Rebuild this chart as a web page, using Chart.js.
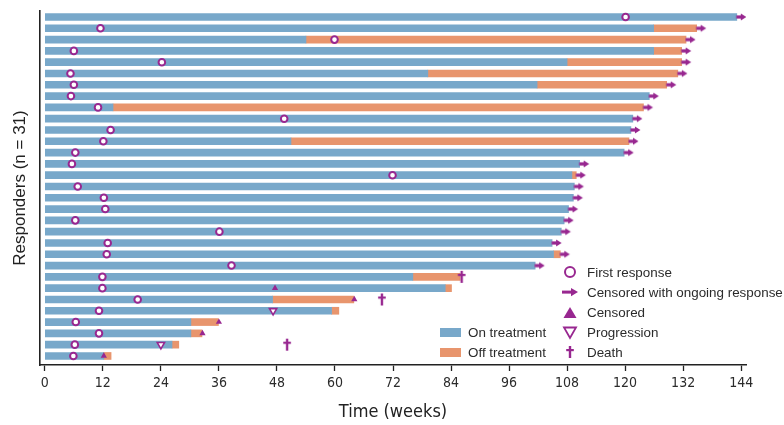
<!DOCTYPE html>
<html lang="en">
<head>
  <meta charset="UTF-8">
  <title>Responders swimmer plot</title>
  <style>
    html, body { margin: 0; padding: 0; background: #fff; }
    #wrap { width: 784px; height: 425px; }
  </style>
</head>
<body>
  <div id="wrap"><canvas id="chart" width="784" height="425"></canvas></div>
  <script src="https://cdn.jsdelivr.net/npm/chart.js"></script>
  <script>
    // weeks, one entry per responder (row 1 = top)
    const onTreatmentEnd = [143.1, 125.9, 54.0, 125.9, 108.0, 79.2, 101.8, 125.0, 14.1, 121.6,
      121.2, 50.9, 119.8, 110.6, 109.0, 109.5, 109.3, 108.3, 107.4, 106.8,
      104.9, 105.2, 101.4, 76.1, 82.8, 47.1, 59.3, 30.2, 30.2, 26.3, 12.2];
    const offTreatmentEnd = [null, 134.8, 132.6, 131.7, 131.7, 130.9, 128.6, null, 123.8, null,
      null, 120.8, null, null, 109.9, null, null, null, null, null,
      null, 106.6, null, 85.9, 84.1, 63.9, 60.8, 35.9, 32.5, 27.7, 13.7];
    const firstResponse = [120.1, 11.5, 59.9, 6.0, 24.2, 5.3, 6.0, 5.4, 11.0, 49.5,
      13.6, 12.1, 6.3, 5.6, 71.9, 6.8, 12.2, 12.5, 6.3, 36.1,
      13.0, 12.8, 38.6, 11.9, 11.9, 19.2, 11.2, 6.4, 11.2, 6.2, 5.9];
    const ongoingRows = [1, 2, 3, 4, 5, 6, 7, 8, 9, 10, 11, 12, 13, 14, 15, 16, 17, 18, 19, 20, 21, 22, 23];
    const censoredRows = [25, 26, 28, 29, 31];
    const censoredWeeks = [47.6, 64.0, 36.0, 32.6, 12.2];
    const progressionRows = [27, 30];
    const progressionWeeks = [47.2, 24.0];
    const deathRows = [24, 26, 30];
    const deathWeeks = [86.2, 69.7, 50.1];
    const weekTicks = [0, 12, 24, 36, 48, 60, 72, 84, 96, 108, 120, 132, 144];

    const BLUE = '#78a8ca';
    const ORANGE = '#e8956d';
    const PURPLE = '#982790';
    const NARROW = '"Liberation Sans Narrow", "DejaVu Sans Condensed", sans-serif';

    // custom marker images (arrow starts at the point, dagger centred)
    function makeArrow() {
      const c = document.createElement('canvas');
      c.width = 22; c.height = 10;
      const g = c.getContext('2d');
      g.fillStyle = PURPLE;
      g.fillRect(10.5, 3.4, 5, 3.2);
      g.beginPath();
      g.moveTo(15, 1.4); g.lineTo(20.5, 5); g.lineTo(15, 8.6); g.closePath();
      g.fill();
      return c;
    }
    function makeDagger() {
      const c = document.createElement('canvas');
      c.width = 10; c.height = 14;
      const g = c.getContext('2d');
      g.fillStyle = PURPLE;
      g.fillRect(3.8, 1, 2.4, 12);
      g.fillRect(1.2, 4, 7.6, 2.2);
      return c;
    }
    const arrowImg = makeArrow();
    const daggerImg = makeDagger();

    const rows = onTreatmentEnd.map((_, i) => i + 1);

    const onData = rows.map((r, i) => ({ x: [0, onTreatmentEnd[i]], y: r }));
    const offData = rows.filter((r, i) => offTreatmentEnd[i] !== null)
      .map(r => ({ x: [onTreatmentEnd[r - 1], offTreatmentEnd[r - 1]], y: r }));
    const responseData = rows.map((r, i) => ({ x: firstResponse[i], y: r }));
    const ongoingData = ongoingRows.map(r => ({ x: offTreatmentEnd[r - 1] ?? onTreatmentEnd[r - 1], y: r }));
    const censoredData = censoredRows.map((r, i) => ({ x: censoredWeeks[i], y: r }));
    const progressionData = progressionRows.map((r, i) => ({ x: progressionWeeks[i], y: r }));
    const deathData = deathRows.map((r, i) => ({ x: deathWeeks[i], y: r }));

    const legendPlugin = {
      id: 'swimLegend',
      afterDraw(chart) {
        const g = chart.ctx;
        g.save();
        g.font = '13.4px "Liberation Sans", Arial, sans-serif';
        g.textBaseline = 'middle';
        // bar legend
        g.fillStyle = BLUE; g.fillRect(440, 328, 21, 9);
        g.fillStyle = ORANGE; g.fillRect(440, 348, 21, 9);
        g.fillStyle = '#2b2b2b';
        g.fillText('On treatment', 468, 333);
        g.fillText('Off treatment', 468, 353);
        // marker legend
        const mx = 570;
        g.strokeStyle = PURPLE; g.fillStyle = PURPLE;
        g.lineWidth = 2;
        g.beginPath(); g.arc(mx, 272, 5, 0, Math.PI * 2); g.stroke();
        g.fillRect(mx - 8, 290.6, 10, 3);
        g.beginPath(); g.moveTo(mx + 1, 288); g.lineTo(mx + 8, 292.1); g.lineTo(mx + 1, 296.2); g.closePath(); g.fill();
        g.beginPath(); g.moveTo(mx, 307); g.lineTo(mx + 6.5, 318); g.lineTo(mx - 6.5, 318); g.closePath(); g.fill();
        g.lineWidth = 1.8;
        g.beginPath(); g.moveTo(mx - 6, 327.5); g.lineTo(mx + 6, 327.5); g.lineTo(mx, 338); g.closePath(); g.stroke();
        g.drawImage(daggerImg, mx - 5, 345);
        g.fillStyle = '#2b2b2b';
        g.fillText('First response', 587, 273);
        g.fillText('Censored with ongoing response', 587, 293);
        g.fillText('Censored', 587, 313);
        g.fillText('Progression', 587, 333);
        g.fillText('Death', 587, 353);
        g.restore();
      }
    };

    new Chart(document.getElementById('chart'), {
      type: 'bar',
      data: {
        datasets: [
          { label: 'On treatment', data: onData, backgroundColor: BLUE, indexAxis: 'y', grouped: false, barThickness: 7, order: 3 },
          { label: 'Off treatment', data: offData, backgroundColor: ORANGE, indexAxis: 'y', grouped: false, barThickness: 7, order: 3 },
          { type: 'scatter', label: 'First response', data: responseData, pointStyle: 'circle', pointRadius: 3.3,
            pointBorderWidth: 2, pointBorderColor: PURPLE, pointBackgroundColor: '#fff', order: 1 },
          { type: 'scatter', label: 'Censored with ongoing response', data: ongoingData, pointStyle: arrowImg, order: 1 },
          { type: 'scatter', label: 'Censored', data: censoredData, pointStyle: 'triangle', pointRadius: 3.6,
            pointBorderWidth: 0, pointBackgroundColor: PURPLE, pointBorderColor: PURPLE, order: 1 },
          { type: 'scatter', label: 'Progression', data: progressionData, pointStyle: 'triangle', pointRotation: 180,
            pointRadius: 4.2, pointBorderWidth: 1.6, pointBackgroundColor: '#fff', pointBorderColor: PURPLE, order: 1 },
          { type: 'scatter', label: 'Death', data: deathData, pointStyle: daggerImg, order: 1 }
        ]
      },
      options: {
        responsive: false,
        animation: false,
        indexAxis: 'y',
        layout: { padding: { top: 11, right: 38, left: 0, bottom: 0 } },
        plugins: { legend: { display: false }, tooltip: { enabled: false } },
        scales: {
          x: {
            type: 'linear',
            min: -1,
            max: 145,
            offset: false,
            afterBuildTicks: s => { s.ticks = weekTicks.map(v => ({ value: v })); },
            afterFit: s => { s.height = 60; },
            grid: { offset: false, drawOnChartArea: false, drawTicks: true, tickLength: 6, tickWidth: 1.3, tickColor: '#222' },
            border: { color: '#222', width: 1.6 },
            ticks: { padding: 4, color: '#2b2b2b', maxRotation: 0, autoSkip: false, font: { family: NARROW, size: 14 } },
            title: { display: true, text: 'Time (weeks)', color: '#222', padding: { top: 0, bottom: 2 },
              font: { family: NARROW, size: 18 } }
          },
          y: {
            type: 'linear',
            reverse: true,
            min: 0.47,
            max: 31.8,
            offset: false,
            afterFit: s => { s.width = 40; },
            grid: { display: false, offset: false },
            border: { display: true, color: '#222', width: 1.6 },
            ticks: { display: false },
            title: { display: true, text: 'Responders (n = 31)', color: '#222', padding: { top: 10, bottom: 0 },
              font: { family: '"Liberation Sans", Arial, sans-serif', size: 17 } }
          }
        }
      },
      plugins: [legendPlugin]
    });
  </script>
</body>
</html>
